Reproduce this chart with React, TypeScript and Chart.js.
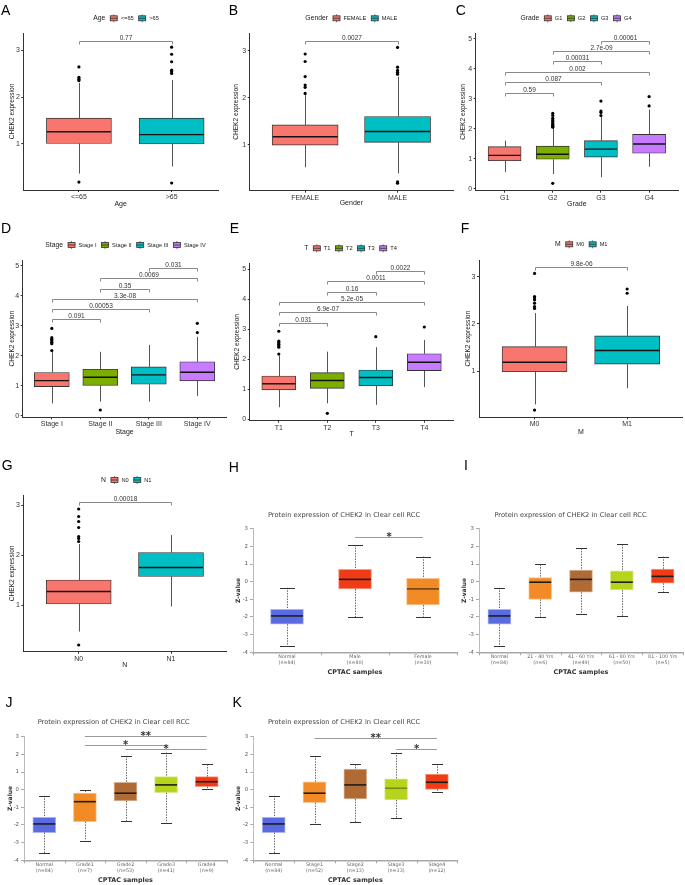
import React, { useEffect, useRef } from 'react';
import { Chart, registerables } from 'chart.js';

Chart.register(...registerables);

const GG_FONT = "'Liberation Sans', Arial, Helvetica, sans-serif";
const UA_FONT = "'DejaVu Sans', Verdana, sans-serif";

const GG2 = ['#F8766D', '#00BFC4'];
const GG4 = ['#F8766D', '#7CAE00', '#00BFC4', '#C77CFF'];
const UA_BLUE = '#5a6ae0';
const UA_RED = '#f03c16';
const UA_ORANGE = '#f28b26';
const UA_BROWN = '#b06b34';
const UA_YG = '#b6d41c';
const UA3 = [UA_BLUE, UA_RED, UA_ORANGE];
const UA5 = [UA_BLUE, UA_ORANGE, UA_BROWN, UA_YG, UA_RED];

const GG_Y_TITLE = 'CHEK2 expression';
const UA_TITLE = 'Protein expression of CHEK2 in Clear cell RCC';
const UA_X_TITLE = 'CPTAC samples';
const UA_Y_TITLE = 'Z-value';
const TICKS_123 = [1, 2, 3];
const TICKS_0_5 = [0, 1, 2, 3, 4, 5];
const TICKS_UA = [-4, -3, -2, -1, 0, 1, 2, 3];

// ---------- A: Age ----------
const A_CATS = ['<=65', '>65'];
const A_Q1 = [1.01, 1.0];
const A_MED = [1.26, 1.2];
const A_Q3 = [1.55, 1.55];
const A_LO = [0.37, 0.52];
const A_HI = [2.3, 2.36];
const A_OUT = [[2.64, 2.42, 2.38, 2.35, 0.19], [3.06, 2.91, 2.75, 2.57, 2.54, 2.5, 0.17]];
const A_PV = [{ a: 1, b: 2, y: 3.2, p: '0.77' }];

// ---------- B: Gender ----------
const B_CATS = ['FEMALE', 'MALE'];
const B_Q1 = [0.99, 1.05];
const B_MED = [1.17, 1.28];
const B_Q3 = [1.42, 1.6];
const B_LO = [0.52, 0.39];
const B_HI = [2.06, 2.45];
const B_OUT = [[2.93, 2.77, 2.45, 2.27, 2.22, 2.09], [3.07, 2.65, 2.58, 2.54, 2.5, 0.21, 0.18]];
const B_PV = [{ a: 1, b: 2, y: 3.2, p: '0.0027' }];

// ---------- C: Grade ----------
const C_CATS = ['G1', 'G2', 'G3', 'G4'];
const C_Q1 = [0.94, 0.99, 1.06, 1.19];
const C_MED = [1.12, 1.16, 1.33, 1.5];
const C_Q3 = [1.41, 1.43, 1.61, 1.82];
const C_LO = [0.56, 0.5, 0.39, 0.74];
const C_HI = [1.61, 2.04, 2.42, 2.65];
const C_OUT = [[], [2.52, 2.45, 2.36, 2.3, 2.26, 2.2, 2.16, 2.12, 2.09, 2.06, 0.19], [2.93, 2.6, 2.55, 2.45], [3.08, 2.77]];
const C_PV = [
  { a: 1, b: 2, y: 3.21, p: '0.59' },
  { a: 1, b: 3, y: 3.57, p: '0.087' },
  { a: 1, b: 4, y: 3.91, p: '0.002' },
  { a: 2, b: 3, y: 4.26, p: '0.00031' },
  { a: 2, b: 4, y: 4.6, p: '2.7e-09' },
  { a: 3, b: 4, y: 4.94, p: '0.00061' },
];

// ---------- D: Stage ----------
const D_CATS = ['Stage I', 'Stage II', 'Stage III', 'Stage IV'];
const D_Q1 = [0.97, 1.01, 1.05, 1.16];
const D_MED = [1.17, 1.28, 1.36, 1.45];
const D_Q3 = [1.44, 1.55, 1.63, 1.8];
const D_LO = [0.41, 0.47, 0.47, 0.66];
const D_HI = [2.12, 2.13, 2.36, 2.63];
const D_OUT = [[2.91, 2.6, 2.55, 2.5, 2.45, 2.4, 2.17], [0.19], [], [3.08, 2.77]];
const D_PV = [
  { a: 1, b: 2, y: 3.21, p: '0.091' },
  { a: 1, b: 3, y: 3.56, p: '0.00053' },
  { a: 1, b: 4, y: 3.9, p: '3.3e-08' },
  { a: 2, b: 3, y: 4.23, p: '0.35' },
  { a: 2, b: 4, y: 4.59, p: '0.0069' },
  { a: 3, b: 4, y: 4.93, p: '0.031' },
];

// ---------- E: T ----------
const E_CATS = ['T1', 'T2', 'T3', 'T4'];
const E_Q1 = [0.98, 1.03, 1.11, 1.62];
const E_MED = [1.18, 1.29, 1.39, 1.9];
const E_Q3 = [1.44, 1.55, 1.64, 2.18];
const E_LO = [0.4, 0.53, 0.48, 1.07];
const E_HI = [2.12, 2.25, 2.4, 2.64];
const E_OUT = [[2.93, 2.6, 2.55, 2.5, 2.45, 2.4, 2.17], [0.2], [2.75], [3.07]];
const E_PV = [
  { a: 1, b: 2, y: 3.22, p: '0.031' },
  { a: 1, b: 3, y: 3.57, p: '6.9e-07' },
  { a: 1, b: 4, y: 3.9, p: '5.2e-05' },
  { a: 2, b: 3, y: 4.24, p: '0.16' },
  { a: 2, b: 4, y: 4.6, p: '0.0011' },
  { a: 3, b: 4, y: 4.94, p: '0.0022' },
];

// ---------- F: M ----------
const F_CATS = ['M0', 'M1'];
const F_Q1 = [0.99, 1.15];
const F_MED = [1.19, 1.44];
const F_Q3 = [1.52, 1.75];
const F_LO = [0.3, 0.64];
const F_HI = [2.23, 2.38];
const F_OUT = [[3.07, 2.58, 2.55, 2.51, 2.44, 2.37, 2.33, 0.18], [2.74, 2.65]];
const F_PV = [{ a: 1, b: 2, y: 3.2, p: '9.8e-06' }];

// ---------- G: N ----------
const G_CATS = ['N0', 'N1'];
const G_Q1 = [1.02, 1.57];
const G_MED = [1.27, 1.75];
const G_Q3 = [1.5, 2.05];
const G_LO = [0.47, 0.97];
const G_HI = [2.22, 2.4];
const G_OUT = [[2.92, 2.77, 2.67, 2.55, 2.37, 2.33, 2.27, 0.2], []];
const G_PV = [{ a: 1, b: 2, y: 3.07, p: '0.00018' }];

// ---------- H: CPTAC gender ----------
const H_CATS = ['Normal', 'Male', 'Female'];
const H_N = [84, 80, 30];
const H_Q1 = [-2.41, -0.41, -1.32];
const H_MED = [-1.94, 0.13, -0.41];
const H_Q3 = [-1.56, 0.7, 0.19];
const H_LO = [-3.62, -2.02, -1.98];
const H_HI = [-0.34, 2.08, 1.42];
const H_MEDCOL = ['#1e1e1e', '#1e1e1e', '#6b4418'];
const H_SIG = [{ a: 2, b: 3, y: 2.55, s: '*' }];

// ---------- I: CPTAC age ----------
const I_CATS = ['Normal', '21 - 40 Yrs', '41 - 60 Yrs', '61 - 80 Yrs', '81 - 100 Yrs'];
const I_N = [84, 6, 49, 50, 5];
const I_Q1 = [-2.41, -1.0, -0.6, -0.47, -0.09];
const I_MED = [-1.94, -0.03, 0.13, -0.03, 0.3];
const I_Q3 = [-1.56, 0.23, 0.66, 0.62, 0.72];
const I_LO = [-3.62, -1.98, -1.85, -1.94, -0.6];
const I_HI = [-0.34, 0.98, 1.89, 2.12, 1.42];

// ---------- J: CPTAC grade ----------
const J_CATS = ['Normal', 'Grade1', 'Grade2', 'Grade3', 'Grade4'];
const J_N = [84, 7, 53, 41, 9];
const J_Q1 = [-2.43, -1.81, -0.64, -0.17, 0.17];
const J_MED = [-1.94, -0.68, -0.2, 0.27, 0.45];
const J_Q3 = [-1.56, -0.2, 0.42, 0.74, 0.74];
const J_LO = [-3.6, -2.89, -1.77, -1.87, 0.02];
const J_HI = [-0.34, -0.04, 1.91, 2.1, 1.44];
const J_SIG = [
  { a: 2, b: 5, y: 3.04, s: '**' },
  { a: 2, b: 4, y: 2.51, s: '*' },
  { a: 3, b: 5, y: 2.31, s: '*' },
];

// ---------- K: CPTAC stage ----------
const K_CATS = ['Normal', 'Stage1', 'Stage2', 'Stage3', 'Stage4'];
const K_N = [84, 52, 13, 33, 12];
const K_Q1 = [-2.43, -0.74, -0.53, -0.58, 0.02];
const K_MED = [-1.94, -0.2, 0.27, 0.08, 0.42];
const K_Q3 = [-1.56, 0.45, 1.17, 0.61, 0.89];
const K_LO = [-3.6, -1.96, -1.85, -1.62, -0.11];
const K_HI = [-0.34, 1.91, 1.44, 2.1, 1.46];
const K_MEDCOL = ['#1e1e1e', '#1e1e1e', '#1e1e1e', '#7d8c12', '#1e1e1e'];
const K_SIG = [
  { a: 2, b: 5, y: 2.95, s: '**' },
  { a: 4, b: 5, y: 2.31, s: '*' },
];

interface Cfg {
  kind: 'gg' | 'ua';
  letter: string;
  letterPos: [number, number];
  box: [number, number, number, number];
  plot: [number, number, number, number];
  cats: string[];
  ns?: number[];
  q1: number[];
  med: number[];
  q3: number[];
  lo: number[];
  hi: number[];
  out?: number[][];
  colors: string[];
  yRange: [number, number];
  yTicks: number[];
  xRange: [number, number];
  barPx: number;
  capPx?: number;
  pv?: { a: number; b: number; y: number; p: string }[];
  sig?: { a: number; b: number; y: number; s: string }[];
  xTitle: string;
  yTitle: string;
  yTitleX: number;
  xTitleY: number;
  legend?: [number, number];
  title?: string;
  titlePos?: [number, number];
  medColors?: string[];
}

const PANELS: Cfg[] = [
  {
    kind: 'gg', letter: 'A', letterPos: [1, 5], box: [0, 0, 228, 210], plot: [23.3, 33, 218, 190],
    cats: A_CATS, q1: A_Q1, med: A_MED, q3: A_Q3, lo: A_LO, hi: A_HI, out: A_OUT, colors: GG2,
    yRange: [0.021, 3.362], yTicks: TICKS_123, xRange: [0.4, 2.5], barPx: 65, pv: A_PV,
    xTitle: 'Age', yTitle: GG_Y_TITLE, yTitleX: 12, xTitleY: 204, legend: [126, 18.3],
  },
  {
    kind: 'gg', letter: 'B', letterPos: [228.7, 5], box: [228, 0, 227, 210], plot: [249.7, 33.3, 453, 190.7],
    cats: B_CATS, q1: B_Q1, med: B_MED, q3: B_Q3, lo: B_LO, hi: B_HI, out: B_OUT, colors: GG2,
    yRange: [0.021, 3.37], yTicks: TICKS_123, xRange: [0.4, 2.6], barPx: 66, pv: B_PV,
    xTitle: 'Gender', yTitle: GG_Y_TITLE, yTitleX: 236.5, xTitleY: 203.5, legend: [351.3, 18.3],
  },
  {
    kind: 'gg', letter: 'C', letterPos: [455.7, 5], box: [455, 0, 230, 210], plot: [475.7, 33.3, 678, 190.7],
    cats: C_CATS, q1: C_Q1, med: C_MED, q3: C_Q3, lo: C_LO, hi: C_HI, out: C_OUT, colors: GG4,
    yRange: [-0.057, 5.19], yTicks: TICKS_0_5, xRange: [0.4, 4.6], barPx: 33, pv: C_PV,
    xTitle: 'Grade', yTitle: GG_Y_TITLE, yTitleX: 463.5, xTitleY: 204, legend: [576, 18.3],
  },
  {
    kind: 'gg', letter: 'D', letterPos: [1, 223.3], box: [0, 210, 228, 230], plot: [22.7, 260, 227, 417.3],
    cats: D_CATS, q1: D_Q1, med: D_MED, q3: D_Q3, lo: D_LO, hi: D_HI, out: D_OUT, colors: GG4,
    yRange: [-0.053, 5.19], yTicks: TICKS_0_5, xRange: [0.4, 4.6], barPx: 35, pv: D_PV,
    xTitle: 'Stage', yTitle: GG_Y_TITLE, yTitleX: 11.7, xTitleY: 432, legend: [125.5, 245],
  },
  {
    kind: 'gg', letter: 'E', letterPos: [229.7, 223.3], box: [228, 210, 227, 230], plot: [249.7, 263.3, 454, 420.7],
    cats: E_CATS, q1: E_Q1, med: E_MED, q3: E_Q3, lo: E_LO, hi: E_HI, out: E_OUT, colors: GG4,
    yRange: [-0.047, 5.19], yTicks: TICKS_0_5, xRange: [0.4, 4.6], barPx: 34, pv: E_PV,
    xTitle: 'T', yTitle: GG_Y_TITLE, yTitleX: 237.5, xTitleY: 434, legend: [350.5, 248.3],
  },
  {
    kind: 'gg', letter: 'F', letterPos: [460.7, 223.3], box: [455, 210, 230, 230], plot: [479, 260, 682.7, 417.3],
    cats: F_CATS, q1: F_Q1, med: F_MED, q3: F_Q3, lo: F_LO, hi: F_HI, out: F_OUT, colors: GG2,
    yRange: [0.027, 3.353], yTicks: TICKS_123, xRange: [0.4, 2.6], barPx: 65, pv: F_PV,
    xTitle: 'M', yTitle: GG_Y_TITLE, yTitleX: 468.5, xTitleY: 432, legend: [581.3, 244.3],
  },
  {
    kind: 'gg', letter: 'G', letterPos: [1.7, 460], box: [0, 440, 228, 240], plot: [23.3, 495, 227.3, 651.7],
    cats: G_CATS, q1: G_Q1, med: G_MED, q3: G_Q3, lo: G_LO, hi: G_HI, out: G_OUT, colors: GG2,
    yRange: [0.066, 3.2], yTicks: TICKS_123, xRange: [0.4, 2.6], barPx: 65, pv: G_PV,
    xTitle: 'N', yTitle: GG_Y_TITLE, yTitleX: 11.7, xTitleY: 665, legend: [126.3, 480],
  },
  {
    kind: 'ua', letter: 'H', letterPos: [228.7, 461.7], box: [228, 440, 230, 240], plot: [253, 528.7, 457, 652.3],
    cats: H_CATS, ns: H_N, q1: H_Q1, med: H_MED, q3: H_Q3, lo: H_LO, hi: H_HI, colors: UA3,
    yRange: [-4, 3], yTicks: TICKS_UA, xRange: [0.5, 3.5], barPx: 33, capPx: 15, sig: H_SIG,
    xTitle: UA_X_TITLE, yTitle: UA_Y_TITLE, yTitleX: 238, xTitleY: 672, title: UA_TITLE, titlePos: [344, 515],
    medColors: H_MEDCOL,
  },
  {
    kind: 'ua', letter: 'I', letterPos: [464, 460], box: [458, 440, 227, 240], plot: [479, 528.7, 683, 652.3],
    cats: I_CATS, ns: I_N, q1: I_Q1, med: I_MED, q3: I_Q3, lo: I_LO, hi: I_HI, colors: UA5,
    yRange: [-4, 3], yTicks: TICKS_UA, xRange: [0.5, 5.5], barPx: 23, capPx: 11,
    xTitle: UA_X_TITLE, yTitle: UA_Y_TITLE, yTitleX: 464.3, xTitleY: 672.7, title: UA_TITLE, titlePos: [570.5, 515],
  },
  {
    kind: 'ua', letter: 'J', letterPos: [5.5, 696.7], box: [0, 680, 228, 205], plot: [24, 736.7, 227, 860.3],
    cats: J_CATS, ns: J_N, q1: J_Q1, med: J_MED, q3: J_Q3, lo: J_LO, hi: J_HI, colors: UA5,
    yRange: [-4, 3], yTicks: TICKS_UA, xRange: [0.5, 5.5], barPx: 23, capPx: 11, sig: J_SIG,
    xTitle: UA_X_TITLE, yTitle: UA_Y_TITLE, yTitleX: 10, xTitleY: 880, title: UA_TITLE, titlePos: [113.7, 722.7],
  },
  {
    kind: 'ua', letter: 'K', letterPos: [232.5, 696.7], box: [228, 680, 232, 205], plot: [253.3, 736.7, 457.3, 860.3],
    cats: K_CATS, ns: K_N, q1: K_Q1, med: K_MED, q3: K_Q3, lo: K_LO, hi: K_HI, colors: UA5,
    yRange: [-4, 3], yTicks: TICKS_UA, xRange: [0.5, 5.5], barPx: 23, capPx: 11, sig: K_SIG,
    xTitle: UA_X_TITLE, yTitle: UA_Y_TITLE, yTitleX: 238, xTitleY: 880, title: UA_TITLE, titlePos: [344, 722.7],
    medColors: K_MEDCOL,
  },
];

function makeChart(canvas: HTMLCanvasElement, c: Cfg) {
  const gg = c.kind === 'gg';
  const fam = gg ? GG_FONT : UA_FONT;
  const [cl, ct, cw, ch] = c.box;
  const [pl, pt, pr, pb] = c.plot;
  const yTitleSize = gg ? 6.6 : 6;
  const xTitleSize = gg ? 7 : 6.4;
  const Wy = pl - c.yTitleX + (yTitleSize * 1.2) / 2;
  const Hx = c.xTitleY - pb + (xTitleSize * 1.2) / 2;
  const padding = {
    left: pl - cl - Wy,
    top: pt - ct,
    right: cl + cw - pr,
    bottom: ct + ch - pb - Hx,
  };
  const n = c.cats.length;
  const boxData = c.cats.map((_, i) => ({ x: i + 1, y: [c.q1[i], c.q3[i]] }));
  const outData: { x: number; y: number }[] = [];
  (c.out || []).forEach((arr, i) => arr.forEach((v) => outData.push({ x: i + 1, y: v })));

  const deco = {
    id: 'boxdeco',
    beforeDatasetsDraw(chart: any) {
      const ctx = chart.ctx;
      const x = chart.scales.x;
      const y = chart.scales.y;
      ctx.save();
      for (let i = 0; i < n; i++) {
        const px = Math.round(x.getPixelForValue(i + 1)) + 0.5;
        const yq1 = y.getPixelForValue(c.q1[i]);
        const yq3 = y.getPixelForValue(c.q3[i]);
        const ylo = y.getPixelForValue(c.lo[i]);
        const yhi = y.getPixelForValue(c.hi[i]);
        ctx.lineWidth = 1;
        if (gg) {
          ctx.strokeStyle = '#555555';
          ctx.setLineDash([]);
        } else {
          ctx.strokeStyle = '#6a6a6a';
          ctx.setLineDash([1.5, 1.2]);
        }
        ctx.beginPath();
        ctx.moveTo(px, yhi);
        ctx.lineTo(px, yq3);
        ctx.moveTo(px, yq1);
        ctx.lineTo(px, ylo);
        ctx.stroke();
        if (!gg) {
          ctx.setLineDash([]);
          ctx.strokeStyle = '#333333';
          const h = (c.capPx || 10) / 2;
          ctx.beginPath();
          ctx.moveTo(px - h, Math.round(yhi) + 0.5);
          ctx.lineTo(px + h, Math.round(yhi) + 0.5);
          ctx.moveTo(px - h, Math.round(ylo) + 0.5);
          ctx.lineTo(px + h, Math.round(ylo) + 0.5);
          ctx.stroke();
        }
      }
      ctx.restore();
    },
    afterDatasetsDraw(chart: any) {
      const ctx = chart.ctx;
      const x = chart.scales.x;
      const y = chart.scales.y;
      ctx.save();
      for (let i = 0; i < n; i++) {
        const px = x.getPixelForValue(i + 1);
        const ym = y.getPixelForValue(c.med[i]);
        ctx.strokeStyle = c.medColors ? c.medColors[i] : gg ? '#111111' : '#1e1e1e';
        ctx.lineWidth = gg ? 1.4 : 1.6;
        ctx.beginPath();
        ctx.moveTo(px - c.barPx / 2 + 0.5, ym);
        ctx.lineTo(px + c.barPx / 2 - 0.5, ym);
        ctx.stroke();
      }
      if (c.pv) {
        ctx.font = `6.5px ${GG_FONT}`;
        ctx.textAlign = 'center';
        ctx.textBaseline = 'alphabetic';
        c.pv.forEach((p) => {
          const x1 = Math.round(x.getPixelForValue(p.a)) + 0.5;
          const x2 = Math.round(x.getPixelForValue(p.b)) + 0.5;
          const yy = Math.round(y.getPixelForValue(p.y)) + 0.5;
          ctx.strokeStyle = '#8a8a8a';
          ctx.lineWidth = 1;
          ctx.beginPath();
          ctx.moveTo(x1, yy + 3);
          ctx.lineTo(x1, yy);
          ctx.lineTo(x2, yy);
          ctx.lineTo(x2, yy + 3);
          ctx.stroke();
          ctx.fillStyle = '#333333';
          ctx.fillText(p.p, (x1 + x2) / 2, yy - 2);
        });
      }
      if (c.sig) {
        ctx.font = `bold 10px ${UA_FONT}`;
        ctx.textAlign = 'center';
        ctx.textBaseline = 'alphabetic';
        c.sig.forEach((s) => {
          const x1 = x.getPixelForValue(s.a);
          const x2 = x.getPixelForValue(s.b);
          const yy = Math.round(y.getPixelForValue(s.y)) + 0.5;
          ctx.strokeStyle = '#9a9a9a';
          ctx.lineWidth = 1.2;
          ctx.beginPath();
          ctx.moveTo(x1, yy);
          ctx.lineTo(x2, yy);
          ctx.stroke();
          ctx.fillStyle = '#333333';
          ctx.fillText(s.s, (x1 + x2) / 2, yy + 2.2);
        });
      }
      if (!gg) {
        ctx.strokeStyle = '#a8a8a8';
        ctx.lineWidth = 1;
        const yb = chart.chartArea.bottom;
        for (let k = 0; k <= n; k++) {
          const bx = Math.round(x.getPixelForValue(k + 0.5)) + 0.5;
          ctx.beginPath();
          ctx.moveTo(bx, yb);
          ctx.lineTo(bx, yb + 3);
          ctx.stroke();
        }
      }
      ctx.restore();
    },
    afterDraw(chart: any) {
      const ctx = chart.ctx;
      ctx.save();
      if (gg && c.legend) {
        const cx = c.legend[0] - cl;
        const cy = c.legend[1] - ct;
        const kw = 7;
        const kh = 5;
        const gapT = 5;
        const gapK = 3.5;
        const gapI = 5;
        ctx.font = `6.8px ${GG_FONT}`;
        const tW = ctx.measureText(c.xTitle).width;
        ctx.font = `5.7px ${GG_FONT}`;
        const labW = c.cats.map((s) => ctx.measureText(s).width);
        const total = tW + gapT + labW.reduce((s, w) => s + kw + gapK + w, 0) + gapI * (n - 1);
        let xx = cx - total / 2;
        ctx.textBaseline = 'middle';
        ctx.textAlign = 'left';
        ctx.fillStyle = '#1a1a1a';
        ctx.font = `6.8px ${GG_FONT}`;
        ctx.fillText(c.xTitle, xx, cy);
        xx += tW + gapT;
        ctx.font = `5.7px ${GG_FONT}`;
        c.cats.forEach((s, i) => {
          ctx.strokeStyle = '#555555';
          ctx.lineWidth = 0.8;
          ctx.beginPath();
          ctx.moveTo(xx + kw / 2, cy - kh / 2 - 1.5);
          ctx.lineTo(xx + kw / 2, cy + kh / 2 + 1.5);
          ctx.stroke();
          ctx.fillStyle = c.colors[i];
          ctx.fillRect(xx, cy - kh / 2, kw, kh);
          ctx.strokeStyle = '#333333';
          ctx.strokeRect(xx, cy - kh / 2, kw, kh);
          ctx.beginPath();
          ctx.moveTo(xx, cy);
          ctx.lineTo(xx + kw, cy);
          ctx.stroke();
          ctx.fillStyle = '#1a1a1a';
          ctx.fillText(s, xx + kw + gapK, cy);
          xx += kw + gapK + labW[i] + gapI;
        });
      }
      if (!gg && c.title && c.titlePos) {
        ctx.font = `6.7px ${UA_FONT}`;
        ctx.fillStyle = '#444444';
        ctx.textAlign = 'center';
        ctx.textBaseline = 'middle';
        ctx.fillText(c.title, c.titlePos[0] - cl, c.titlePos[1] - ct);
      }
      ctx.restore();
    },
  };

  return new Chart(canvas, {
    type: 'bar',
    data: {
      datasets: [
        {
          type: 'bar',
          data: boxData as any,
          backgroundColor: c.colors,
          borderColor: gg ? '#333333' : c.colors.map((k) => k + '80'),
          borderWidth: gg ? 0.9 : 1,
          borderSkipped: false,
          barThickness: c.barPx,
          order: 2,
        } as any,
        {
          type: 'line',
          data: outData as any,
          showLine: false,
          pointRadius: 1.6,
          pointHoverRadius: 1.6,
          pointBackgroundColor: '#000000',
          pointBorderWidth: 0,
          order: 1,
        } as any,
      ],
    },
    options: {
      animation: false,
      responsive: false,
      maintainAspectRatio: false,
      devicePixelRatio: 1,
      events: [],
      layout: { padding },
      plugins: { legend: { display: false }, tooltip: { enabled: false }, title: { display: false } },
      scales: {
        x: {
          type: 'linear',
          min: c.xRange[0],
          max: c.xRange[1],
          offset: false,
          afterBuildTicks: (s: any) => {
            s.ticks = c.cats.map((_, i) => ({ value: i + 1 }));
          },
          afterFit: (s: any) => {
            s.height = Hx;
          },
          ticks: {
            autoSkip: false,
            maxRotation: 0,
            minRotation: 0,
            padding: gg ? 1 : 1.5,
            color: gg ? '#333333' : '#666666',
            font: gg ? { family: fam, size: 7 } : { family: fam, size: 4.8, lineHeight: 1.25 },
            callback: (v: any) => {
              const i = Math.round(Number(v)) - 1;
              if (gg) return c.cats[i];
              return [c.cats[i], `(n=${(c.ns || [])[i]})`];
            },
          },
          grid: {
            display: gg,
            drawOnChartArea: false,
            drawTicks: gg,
            tickLength: 2,
            color: '#333333',
            offset: false,
          },
          border: { display: true, color: gg ? '#333333' : '#a8a8a8', width: gg ? 1 : 1.5 },
          title: {
            display: true,
            text: c.xTitle,
            color: gg ? '#1a1a1a' : '#333333',
            font: { family: fam, size: xTitleSize, weight: gg ? 'normal' : 'bold' },
            padding: 0,
          },
        },
        y: {
          type: 'linear',
          min: c.yRange[0],
          max: c.yRange[1],
          afterBuildTicks: (s: any) => {
            s.ticks = c.yTicks.map((v) => ({ value: v }));
          },
          afterFit: (s: any) => {
            s.width = Wy;
          },
          ticks: {
            padding: gg ? 1.5 : 2,
            color: gg ? '#333333' : '#555555',
            font: gg ? { family: fam, size: 7 } : { family: fam, size: 5.4 },
            callback: (v: any) => (Number(v) < 0 ? '-' + String(Math.abs(Number(v))) : String(v)),
          },
          grid: {
            display: true,
            drawOnChartArea: false,
            drawTicks: true,
            tickLength: gg ? 2 : 3,
            color: gg ? '#333333' : '#aaaaaa',
          },
          border: { display: true, color: gg ? '#333333' : '#bbbbbb', width: 1 },
          title: {
            display: true,
            text: c.yTitle,
            color: gg ? '#1a1a1a' : '#333333',
            font: { family: fam, size: yTitleSize, weight: gg ? 'normal' : 'bold' },
            padding: 0,
          },
        },
      },
    } as any,
    plugins: [deco],
  });
}

function Panel({ cfg }: { cfg: Cfg }) {
  const ref = useRef<HTMLCanvasElement>(null);
  useEffect(() => {
    if (!ref.current) return;
    const chart = makeChart(ref.current, cfg);
    return () => chart.destroy();
  }, [cfg]);
  const [l, t, w, h] = cfg.box;
  return (
    <>
      <canvas
        ref={ref}
        width={w}
        height={h}
        style={{ position: 'absolute', left: l, top: t, width: w, height: h }}
      />
      <div
        style={{
          position: 'absolute',
          left: cfg.letterPos[0],
          top: cfg.letterPos[1] - 2,
          fontFamily: GG_FONT,
          fontSize: 14,
          lineHeight: '14px',
          color: '#000',
        }}
      >
        {cfg.letter}
      </div>
    </>
  );
}

export default function App() {
  return (
    <div
      style={{
        position: 'absolute',
        left: 0,
        top: 0,
        width: 685,
        height: 885,
        background: '#ffffff',
        overflow: 'hidden',
      }}
    >
      {PANELS.map((p) => (
        <Panel key={p.letter} cfg={p} />
      ))}
    </div>
  );
}
